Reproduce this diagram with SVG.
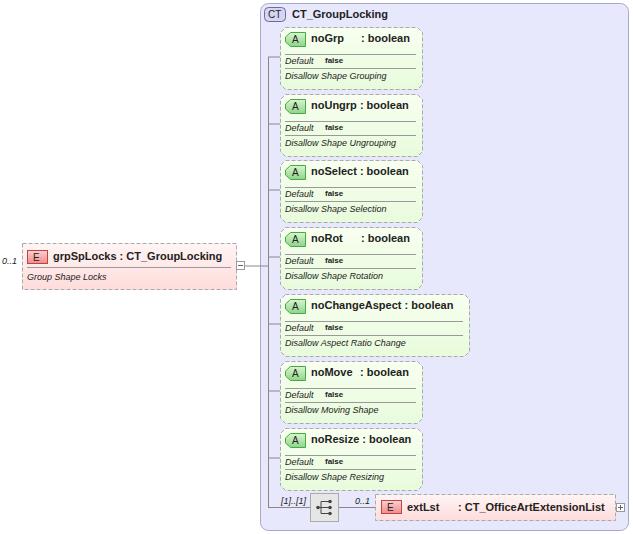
<svg xmlns="http://www.w3.org/2000/svg" width="633" height="534" viewBox="0 0 633 534">
<defs>
<linearGradient id="gE" x1="0" y1="0" x2="0" y2="1"><stop offset="0" stop-color="#fff4f4"/><stop offset="1" stop-color="#ffdcdc"/></linearGradient>
<linearGradient id="gA" x1="0" y1="0" x2="0" y2="1"><stop offset="0" stop-color="#f8fff0"/><stop offset="1" stop-color="#e8fbdc"/></linearGradient>
<linearGradient id="gBE" x1="0" y1="0" x2="0" y2="1"><stop offset="0" stop-color="#ffd0d0"/><stop offset="1" stop-color="#f08a8a"/></linearGradient>
<linearGradient id="gBA" x1="0" y1="0" x2="0" y2="1"><stop offset="0" stop-color="#d8f5cc"/><stop offset="1" stop-color="#8fd48a"/></linearGradient>
</defs>
<style>
text{font-family:"Liberation Sans",Arial,sans-serif;fill:#222}
.n{font-size:11px;font-weight:bold}
.d{font-size:9px;font-style:italic}
.v{font-size:8px;font-weight:bold}
.c{font-size:9px;font-style:italic}
.el{fill:url(#gE);stroke:#aaa;stroke-dasharray:4,2}
.at{fill:url(#gA);stroke:#aaa;stroke-dasharray:4,2}
.sep{stroke:#999;stroke-width:1}
.ln{stroke:#888;fill:none}
.be{fill:url(#gBE);stroke:#b44}
.ba{fill:url(#gBA);stroke:#4a4}
</style>
<rect x="260.5" y="3.5" width="368" height="527" rx="8" fill="#e8e8fc" stroke="#a8a8c8"/>
<rect x="264.5" y="7.5" width="21" height="14" rx="4" fill="#d6d6f2" stroke="#6a6aa0"/>
<text x="268" y="18" style="font-size:10px">CT</text>
<text x="292" y="18" style="font-size:11px;font-weight:bold">CT_GroupLocking</text>
<g id="connectors">
<path class="ln" d="M245 266H268M268.5 57V507M268 57H280M268 124H280M268 190H280M268 257H280M268 324H280M268 391H280M268 458H280M268 507.5H310M338 507.5H375"/>
</g>
<g id="grpSpLocks">
<rect class="el" x="22.5" y="243.5" width="214" height="46"/>
<rect class="be" x="27.5" y="250.5" width="20" height="13"/>
<text x="33" y="261" style="font-size:10px">E</text>
<text class="n" x="53" y="260">grpSpLocks : CT_GroupLocking</text>
<line class="sep" x1="27" y1="267.5" x2="231" y2="267.5"/>
<text class="d" x="27" y="280">Group Shape Locks</text>
<text class="c" x="2" y="264">0..1</text>
<rect x="236.5" y="261.5" width="8" height="8" fill="#fff" stroke="#999"/>
<line x1="238" y1="265.5" x2="243" y2="265.5" stroke="#666"/>
</g>
<g id="noGrp" transform="translate(280,27)">
<path class="at" d="M5.5 0.5H137.5L142.5 5.5V57.5L137.5 62.5H5.5L0.5 57.5V5.5Z"/>
<path class="ba" d="M10.5 5.5H25.5V19.5H10.5L5.5 15V10Z"/><text x="12" y="16" style="font-size:10px">A</text>
<text class="n" x="31" y="15">noGrp</text><text class="n" x="81" y="15">: boolean</text>
<line class="sep" x1="5" y1="27.5" x2="136" y2="27.5"/>
<text class="d" x="5" y="37">Default</text><text class="v" x="45" y="36">false</text>
<line class="sep" x1="5" y1="41.5" x2="136" y2="41.5"/>
<text class="d" x="5" y="52">Disallow Shape Grouping</text>
</g>
<g id="noUngrp" transform="translate(280,94)">
<path class="at" d="M5.5 0.5H137.5L142.5 5.5V57.5L137.5 62.5H5.5L0.5 57.5V5.5Z"/>
<path class="ba" d="M10.5 5.5H25.5V19.5H10.5L5.5 15V10Z"/><text x="12" y="16" style="font-size:10px">A</text>
<text class="n" x="31" y="15">noUngrp : boolean</text>
<line class="sep" x1="5" y1="27.5" x2="136" y2="27.5"/>
<text class="d" x="5" y="37">Default</text><text class="v" x="45" y="36">false</text>
<line class="sep" x1="5" y1="41.5" x2="136" y2="41.5"/>
<text class="d" x="5" y="52">Disallow Shape Ungrouping</text>
</g>
<g id="noSelect" transform="translate(280,160)">
<path class="at" d="M5.5 0.5H137.5L142.5 5.5V57.5L137.5 62.5H5.5L0.5 57.5V5.5Z"/>
<path class="ba" d="M10.5 5.5H25.5V19.5H10.5L5.5 15V10Z"/><text x="12" y="16" style="font-size:10px">A</text>
<text class="n" x="31" y="15">noSelect : boolean</text>
<line class="sep" x1="5" y1="27.5" x2="136" y2="27.5"/>
<text class="d" x="5" y="37">Default</text><text class="v" x="45" y="36">false</text>
<line class="sep" x1="5" y1="41.5" x2="136" y2="41.5"/>
<text class="d" x="5" y="52">Disallow Shape Selection</text>
</g>
<g id="noRot" transform="translate(280,227)">
<path class="at" d="M5.5 0.5H137.5L142.5 5.5V57.5L137.5 62.5H5.5L0.5 57.5V5.5Z"/>
<path class="ba" d="M10.5 5.5H25.5V19.5H10.5L5.5 15V10Z"/><text x="12" y="16" style="font-size:10px">A</text>
<text class="n" x="31" y="15">noRot</text><text class="n" x="81" y="15">: boolean</text>
<line class="sep" x1="5" y1="27.5" x2="136" y2="27.5"/>
<text class="d" x="5" y="37">Default</text><text class="v" x="45" y="36">false</text>
<line class="sep" x1="5" y1="41.5" x2="136" y2="41.5"/>
<text class="d" x="5" y="52">Disallow Shape Rotation</text>
</g>
<g id="noChangeAspect" transform="translate(280,294)">
<path class="at" d="M5.5 0.5H184.5L189.5 5.5V57.5L184.5 62.5H5.5L0.5 57.5V5.5Z"/>
<path class="ba" d="M10.5 5.5H25.5V19.5H10.5L5.5 15V10Z"/><text x="12" y="16" style="font-size:10px">A</text>
<text class="n" x="31" y="15">noChangeAspect : boolean</text>
<line class="sep" x1="5" y1="27.5" x2="183" y2="27.5"/>
<text class="d" x="5" y="37">Default</text><text class="v" x="45" y="36">false</text>
<line class="sep" x1="5" y1="41.5" x2="183" y2="41.5"/>
<text class="d" x="5" y="52">Disallow Aspect Ratio Change</text>
</g>
<g id="noMove" transform="translate(280,361)">
<path class="at" d="M5.5 0.5H137.5L142.5 5.5V57.5L137.5 62.5H5.5L0.5 57.5V5.5Z"/>
<path class="ba" d="M10.5 5.5H25.5V19.5H10.5L5.5 15V10Z"/><text x="12" y="16" style="font-size:10px">A</text>
<text class="n" x="31" y="15">noMove</text><text class="n" x="80" y="15">: boolean</text>
<line class="sep" x1="5" y1="27.5" x2="136" y2="27.5"/>
<text class="d" x="5" y="37">Default</text><text class="v" x="45" y="36">false</text>
<line class="sep" x1="5" y1="41.5" x2="136" y2="41.5"/>
<text class="d" x="5" y="52">Disallow Moving Shape</text>
</g>
<g id="noResize" transform="translate(280,428)">
<path class="at" d="M5.5 0.5H137.5L142.5 5.5V57.5L137.5 62.5H5.5L0.5 57.5V5.5Z"/>
<path class="ba" d="M10.5 5.5H25.5V19.5H10.5L5.5 15V10Z"/><text x="12" y="16" style="font-size:10px">A</text>
<text class="n" x="31" y="15">noResize : boolean</text>
<line class="sep" x1="5" y1="27.5" x2="136" y2="27.5"/>
<text class="d" x="5" y="37">Default</text><text class="v" x="45" y="36">false</text>
<line class="sep" x1="5" y1="41.5" x2="136" y2="41.5"/>
<text class="d" x="5" y="52">Disallow Shape Resizing</text>
</g>
<g id="sequence">
<text class="c" x="281" y="504">[1]..[1]</text>
<rect x="310.5" y="493.5" width="28" height="28" fill="#e6e6e6" stroke="#aaa"/>
<path d="M317 507.5H321M321 501.5V513.5M321 501.5H330M321 507.5H330M321 513.5H330" stroke="#444" fill="none"/>
<circle cx="318" cy="507.5" r="1.8" fill="#444"/>
<circle cx="330" cy="501.5" r="1.8" fill="#444"/><circle cx="330" cy="507.5" r="1.8" fill="#444"/><circle cx="330" cy="513.5" r="1.8" fill="#444"/>
</g>
<g id="extLst">
<text class="c" x="355" y="504">0..1</text>
<rect class="el" x="375.5" y="494.5" width="240" height="26"/>
<rect class="be" x="381.5" y="500.5" width="20" height="13"/>
<text x="387" y="511" style="font-size:10px">E</text>
<text class="n" x="407" y="511">extLst</text><text class="n" x="458" y="511">: CT_OfficeArtExtensionList</text>
<rect x="616.5" y="503.5" width="8" height="8" fill="#fff" stroke="#999"/>
<path d="M618 507.5H623M620.5 505V510" stroke="#666"/>
</g>
</svg>
